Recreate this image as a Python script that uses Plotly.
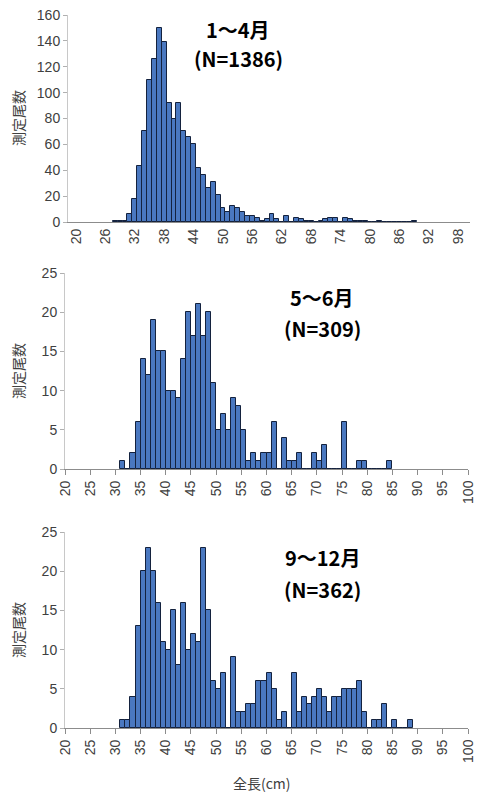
import plotly.graph_objects as go

# ---------------- data ----------------
# Panel 1: 1~4月 (N=1386), 1 cm classes centred on the category value
p1_len = list(range(28, 90))
p1_cnt = [1, 1, 1, 6, 18, 43, 70, 110, 126, 150,
          139, 92, 80, 92, 70, 66, 60, 42, 36, 26,
          31, 21, 11, 8, 12, 11, 8, 5, 5, 3,
          1, 2, 6, 2, 0, 5, 0, 3, 2, 1,
          1, 0, 1, 2, 3, 3, 0, 3, 2, 1,
          1, 1, 0, 0, 1, 0, 0, 0, 0, 0,
          0, 1]
p1_ticklabels = list(range(20, 100, 6))

# Panel 2: 5~6月 (N=309), classes [k, k+1)
p2_len = list(range(31, 85))
p2_cnt = [1, 0, 2, 6, 14, 12, 19, 15, 15, 10,
          10, 9, 14, 20, 17, 21, 17, 20, 11, 5,
          7, 5, 9, 8, 5, 1, 2, 1, 2, 2,
          6, 0, 4, 1, 1, 2, 0, 0, 2, 1,
          3, 0, 0, 0, 6, 0, 0, 1, 1, 0,
          0, 0, 0, 1]

# Panel 3: 9~12月 (N=362), classes [k, k+1)
p3_len = list(range(31, 89))
p3_cnt = [1, 1, 4, 13, 20, 23, 20, 16, 11, 10,
          15, 8, 16, 10, 12, 11, 23, 15, 6, 5,
          7, 0, 9, 2, 2, 3, 3, 6, 6, 7,
          5, 1, 2, 0, 7, 2, 4, 3, 4, 5,
          4, 2, 4, 4, 5, 5, 5, 6, 2, 0,
          1, 1, 3, 0, 1, 0, 0, 1]
p23_ticks = list(range(20, 101, 5))

titles = [("1～4月", "(N=1386)"), ("5～6月", "(N=309)"), ("9～12月", "(N=362)")]
ytitle = "測定尾数"
xtitle = "全長(cm)"

# ---------------- figure ----------------
W, H = 477, 796
BAR = "rgb(74,120,192)"
EDGE = "rgb(20,34,62)"
FONT = "Liberation Sans, Arial, sans-serif"
JFONT = "Noto Sans CJK JP, sans-serif"

def py(p):  # pixel y -> paper
    return 1 - p / H

def px(p):
    return p / W

fig = go.Figure()
bar_kw = dict(marker=dict(color=BAR, line=dict(color=EDGE, width=1)), width=1,
              showlegend=False, hoverinfo="x+y")
fig.add_trace(go.Bar(x=p1_len, y=p1_cnt, xaxis="x", yaxis="y", **bar_kw))
fig.add_trace(go.Bar(x=[v + 0.5 for v in p2_len], y=p2_cnt, xaxis="x2", yaxis="y2", **bar_kw))
fig.add_trace(go.Bar(x=[v + 0.5 for v in p3_len], y=p3_cnt, xaxis="x3", yaxis="y3", **bar_kw))

tickfont = dict(family=FONT, size=14, color="#404040")
xcommon = dict(showline=True, linecolor="#8c8c8c", linewidth=1, ticks="outside",
               ticklen=5, tickcolor="#8c8c8c", tickangle=-90, tickfont=tickfont,
               showgrid=False, zeroline=False, automargin=False)
ycommon = dict(showline=True, linecolor="#c8c8c8", linewidth=1, ticks="outside",
               ticklen=4, tickcolor="#b0b0b0", tickfont=tickfont,
               showgrid=False, zeroline=False, automargin=False)

# panel 1 geometry: category c centred at 76 + (c-20)*4.9 px
c0 = 20 + (68 - 76) / 4.9
c1 = 20 + (470 - 76) / 4.9
fig.update_layout(
    xaxis=dict(domain=[px(68), px(470)], range=[c0, c1], anchor="y",
               tickmode="array", tickvals=p1_ticklabels,
               ticktext=[str(v) for v in p1_ticklabels], **{**xcommon, "ticks": ""}),
    xaxis4=dict(domain=[px(68), px(470)], range=[c0, c1], anchor="y", overlaying="x",
                tickmode="array", tickvals=[19.5 + 5 * k for k in range(17)],
                showticklabels=False, showline=False, ticks="outside", ticklen=5,
                tickcolor="#8c8c8c", showgrid=False, zeroline=False, automargin=False),
    yaxis=dict(domain=[py(222), py(15)], range=[0, 160], anchor="x",
               tickmode="linear", tick0=0, dtick=20, **ycommon),
    xaxis2=dict(domain=[px(65), px(468)], range=[20, 100], anchor="y2",
                tickmode="array", tickvals=p23_ticks, **xcommon),
    yaxis2=dict(domain=[py(469), py(273)], range=[0, 25], anchor="x2",
                tickmode="linear", tick0=0, dtick=5, **ycommon),
    xaxis3=dict(domain=[px(65), px(468)], range=[20, 100], anchor="y3",
                tickmode="array", tickvals=p23_ticks, **xcommon),
    yaxis3=dict(domain=[py(728), py(532)], range=[0, 25], anchor="x3",
                tickmode="linear", tick0=0, dtick=5, **ycommon),
    width=W, height=H, margin=dict(l=0, r=0, t=0, b=0, autoexpand=False),
    paper_bgcolor="white", plot_bgcolor="white", bargap=0,
)

annots = []
title_pos = [(238, 30, 58), (322, 297, 328), (322, 557, 589)]
for (t1, t2), (x, y1, y2) in zip(titles, title_pos):
    annots.append(dict(x=px(x), y=py(y1), xref="paper", yref="paper", text=f"<b>{t1}</b>",
                       showarrow=False, font=dict(family=JFONT, size=20, color="black"),
                       xanchor="center", yanchor="middle"))
    annots.append(dict(x=px(x), y=py(y2), xref="paper", yref="paper", text=f"<b>{t2}</b>",
                       showarrow=False, font=dict(family=JFONT, size=20, color="black"),
                       xanchor="center", yanchor="middle"))
for yc in (118, 371, 630):
    annots.append(dict(x=px(18), y=py(yc), xref="paper", yref="paper", text=ytitle,
                       textangle=-90, showarrow=False,
                       font=dict(family=JFONT, size=14, color="#404040"),
                       xanchor="center", yanchor="middle"))
annots.append(dict(x=px(262), y=py(783), xref="paper", yref="paper", text=xtitle,
                   showarrow=False, font=dict(family=JFONT, size=14, color="#404040"),
                   xanchor="center", yanchor="middle"))
fig.update_layout(annotations=annots)

fig.write_html("out.html", config={"displayModeBar": False},
               post_script="document.body.style.margin='0';document.body.style.padding='0';")
